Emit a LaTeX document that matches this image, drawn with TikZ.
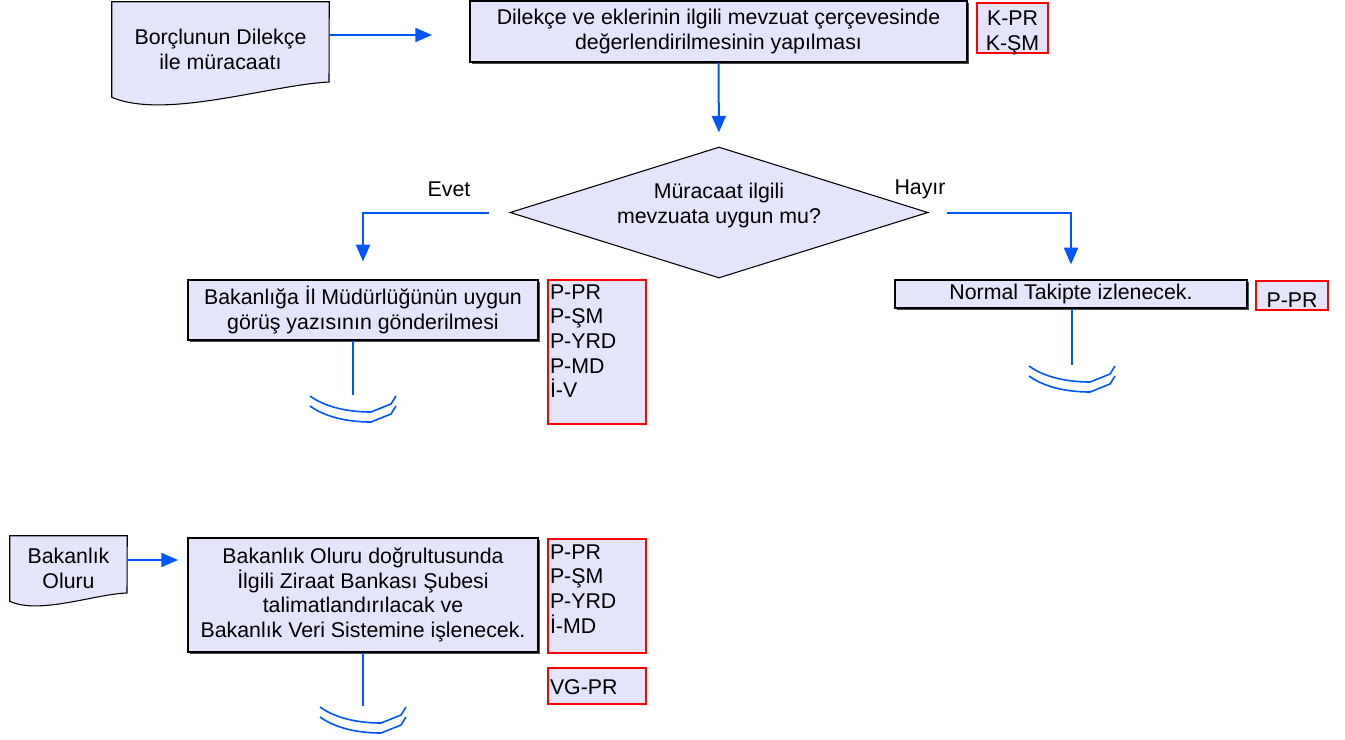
\documentclass[tikz,border=0pt]{standalone}
\usepackage{fontspec}
\setmainfont{Liberation Sans}
\usetikzlibrary{shapes.geometric,arrows.meta,shadows,backgrounds}

\definecolor{boxfill}{RGB}{228,228,250}
\definecolor{flowblue}{RGB}{0,85,255}
\definecolor{roleframe}{RGB}{255,0,0}

\tikzset{
  every node/.style={font=\fontsize{16pt}{18.5pt}\selectfont},
  process/.style={draw=black, line width=0.9pt, fill=boxfill, align=center, inner sep=0pt,
    drop shadow={shadow xshift=1.4pt, shadow yshift=-1.4pt, fill=black!70, opacity=1}},
  decision/.style={diamond, aspect=3.2, draw=black, line width=0.8pt, fill=boxfill, align=center, inner sep=0pt},
  roles/.style={draw=roleframe, line width=1.5pt, fill=boxfill, align=left, inner xsep=1.5pt, anchor=north west},
  docshape/.style={align=center, inner sep=0pt},
  docline/.style={draw=black, line width=0.8pt, fill=boxfill},
  flow/.style={draw=flowblue, line width=1.5pt, -{Triangle[length=12.5pt,width=10.5pt]}},
  endline/.style={draw=flowblue, line width=1.5pt},
  endmark/.pic={
    \draw[endline, line width=1.2pt] (-43,1) .. controls (-25,14) and (0,17) .. (18,17) -- (38,9) -- (43,1);
    \draw[endline, line width=1.2pt] (-43,11) .. controls (-25,24) and (0,27) .. (18,27) -- (38,19) -- (43,11);
  }
}

\begin{document}
\begin{tikzpicture}[x=0.75pt,y=-0.75pt]
\useasboundingbox (0,0) rectangle (1345,739);

\node[docshape, minimum width=162.75pt, minimum height=71.25pt] (petition) at (220.5,49.5) {Borçlunun Dilekçe\\ile müracaatı};
\node[process, minimum width=372.75pt, minimum height=45.75pt] (review) at (718.5,31.5) {Dilekçe ve eklerinin ilgili mevzuat çerçevesinde\\değerlendirilmesinin yapılması};
\node[roles, align=center, text width=50pt, minimum width=53.25pt, text height=15pt, text depth=19pt, inner ysep=1.75pt] (reviewroles) at (976,2) {K-PR\\K-ŞM};

\node[decision, minimum width=313.5pt, minimum height=98.25pt] (check) at (719,212.5) {\raisebox{5pt}[\height][\depth]{\begin{tabular}{@{}c@{}}Müracaat ilgili\\mevzuata uygun mu?\end{tabular}}};
\node (yes) at (449,189) {Evet};
\node (no) at (920,189) {Hayır};

\node[process, minimum width=262.5pt, minimum height=45pt] (approve) at (363,310) {Bakanlığa İl Müdürlüğünün uygun\\görüş yazısının gönderilmesi};
\node[roles, text width=70.5pt, minimum width=73.5pt, text height=12pt, text depth=91.5pt, inner ysep=2.25pt] (approveroles) at (547,279) {P-PR\\P-ŞM\\P-YRD\\P-MD\\İ-V};

\node[process, minimum width=264pt, minimum height=21pt] (normal) at (1071,294) {Normal Takipte izlenecek.};
\node[roles, align=center, text width=51pt, minimum width=54pt, text height=18.5pt, text depth=1.25pt, inner ysep=1pt] (normalroles) at (1255,280) {P-PR};

\node[docshape, minimum width=87.75pt, minimum height=48.75pt] (ministry) at (68.5,568.5) {Bakanlık\\Oluru};
\node[process, minimum width=262.5pt, minimum height=85.5pt] (instruct) at (363,595) {Bakanlık Oluru doğrultusunda\\İlgili Ziraat Bankası Şubesi\\talimatlandırılacak ve\\Bakanlık Veri Sistemine işlenecek.};
\node[roles, text width=70.5pt, minimum width=73.5pt, text height=12pt, text depth=67.5pt, inner ysep=3pt] (instructroles) at (547,538) {P-PR\\P-ŞM\\P-YRD\\İ-MD};
\node[roles, text width=70.5pt, minimum width=73.5pt, text height=16.5pt, text depth=4.5pt, inner ysep=3pt] (registryroles) at (547,667) {VG-PR};

\begin{scope}[on background layer]
\filldraw[docline] (petition.north west) -- (petition.north east) -- (329,82) .. controls (270,85) and (165,120) .. (petition.south west) -- cycle;
\filldraw[docline] (ministry.north west) -- (ministry.north east) -- (127,593) .. controls (95,594) and (39,615) .. (ministry.south west) -- cycle;
\end{scope}

\coordinate (reviewin) at (432,35);
\draw[flow] (petition.east |- reviewin) -- (reviewin);
\draw[flow, shorten >=10.5pt] (review.south) -- (check.north);
\draw[flow, shorten <=15pt, shorten >=13.5pt] (check.west) -| (approve.north);
\draw[flow, shorten <=13.5pt, shorten >=11.25pt] (check.east) -| (normal.north);
\coordinate (instructin) at (178,560);
\draw[flow] (ministry.east |- instructin) -- (instructin);

\coordinate (approveend) at (353,395);
\draw[endline] (approve.south -| approveend) -- (approveend);
\pic at (approveend) {endmark};
\coordinate (normalend) at (1072,365);
\draw[endline] (normal.south -| normalend) -- (normalend);
\pic at (normalend) {endmark};
\coordinate (instructend) at (363,706);
\draw[endline] (instruct.south) -- (instructend);
\pic at (instructend) {endmark};
\end{tikzpicture}
\end{document}
